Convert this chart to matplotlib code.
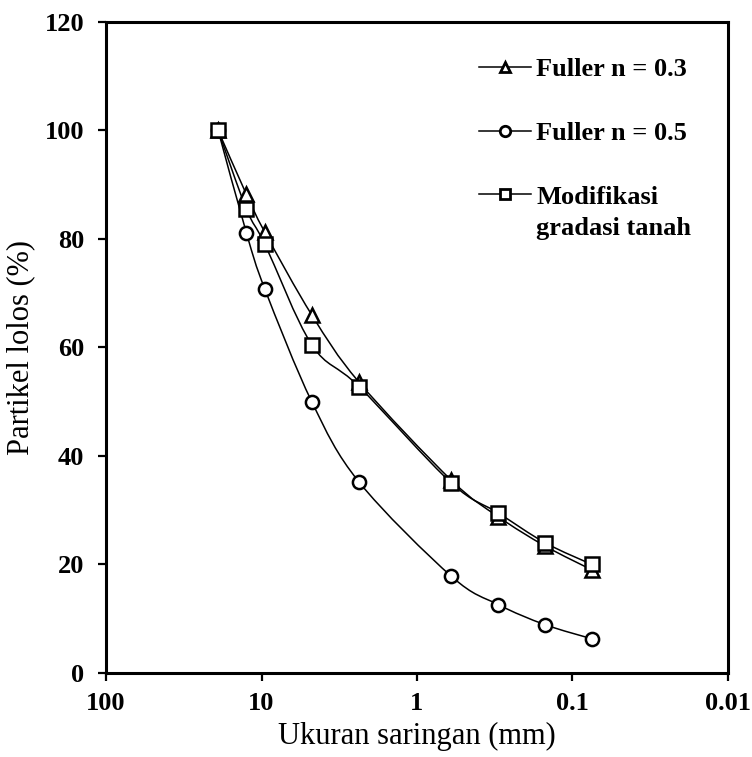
import numpy as np
import matplotlib
matplotlib.use('Agg')
import matplotlib.pyplot as plt
from matplotlib.path import Path
from matplotlib.patches import PathPatch
from matplotlib.lines import Line2D

plt.rcParams['font.family'] = ['Liberation Serif', 'DejaVu Serif']

# sieve sizes (mm) and percent passing
sieve = [19, 12.5, 9.5, 4.75, 2.36, 0.6, 0.3, 0.15, 0.075]
fuller03 = [100, 88.2, 81.2, 66.0, 53.6, 35.5, 28.8, 23.4, 19.0]
fuller05 = [100, 81.1, 70.7, 50.0, 35.2, 17.8, 12.6, 8.9, 6.3]
modif = [100, 85.5, 79.0, 60.5, 52.8, 35.0, 29.5, 24.0, 20.0]

xticks = [100, 10, 1, 0.1, 0.01]
xticklabels = ['100', '10', '1', '0.1', '0.01']
yticks = [0, 20, 40, 60, 80, 100, 120]


def smooth_path(xs, ys):
    # excel-style smoothed line: bezier segments, control points in log-x space
    lx = np.log10(np.array(xs, dtype=float))
    y = np.array(ys, dtype=float)
    n = len(lx)
    verts = [(xs[0], ys[0])]
    codes = [Path.MOVETO]
    for i in range(n - 1):
        a = max(i - 1, 0)
        b = min(i + 2, n - 1)
        c1 = (lx[i] + (lx[i + 1] - lx[a]) / 6, y[i] + (y[i + 1] - y[a]) / 6)
        c2 = (lx[i + 1] - (lx[b] - lx[i]) / 6, y[i + 1] - (y[b] - y[i]) / 6)
        verts += [(10 ** c1[0], c1[1]), (10 ** c2[0], c2[1]), (xs[i + 1], ys[i + 1])]
        codes += [Path.CURVE4] * 3
    return Path(verts, codes)


fig = plt.figure(figsize=(7.52, 7.57), dpi=100)
ax = fig.add_axes([0.141, 0.111, 0.827, 0.860])

ms = 9.5
mew = 1.8
for vals, mk in [(fuller03, '^'), (fuller05, 'o'), (modif, 's')]:
    ax.add_patch(PathPatch(smooth_path(sieve, vals), fill=False, lw=1.1,
                           edgecolor='black', zorder=2))
    ax.plot(sieve, vals, ls='none', marker=mk, ms=ms, mfc='white',
            mec='black', mew=mew, zorder=3)

ax.set_xscale('log')
ax.set_xlim(100, 0.01)
ax.set_ylim(0, 120)
ax.set_xticks(xticks)
ax.set_xticklabels(xticklabels)
ax.minorticks_off()
ax.set_yticks(yticks)

for s in ax.spines.values():
    s.set_linewidth(2.2)
ax.tick_params(direction='out', length=5.8, width=1.6, labelsize=19)
ax.tick_params(axis='y', pad=10)
ax.tick_params(axis='x', pad=8)
for lab in ax.get_xticklabels() + ax.get_yticklabels():
    lab.set_fontweight('bold')

ax.set_xlabel('Ukuran saringan (mm)', fontsize=22, labelpad=5)
ax.set_ylabel('Partikel lolos (%)', fontsize=22, labelpad=7)

handles = [
    Line2D([], [], color='black', lw=1.1, marker='^', ms=7.5, mfc='white', mew=2),
    Line2D([], [], color='black', lw=1.1, marker='o', ms=7.5, mfc='white', mew=2),
    Line2D([], [], color='black', lw=1.1, marker='s', ms=7.5, mfc='white', mew=2),
]
labels = ['Fuller n = 0.3', 'Fuller n = 0.5', 'Modifikasi']
leg = ax.legend(handles, labels, loc='upper left', bbox_to_anchor=(0.578, 0.965),
                frameon=False, borderpad=0, handlelength=2.0, handletextpad=0.19,
                labelspacing=1.52, prop={'weight': 'bold', 'size': 19})

fig.canvas.draw()
bb = leg.get_texts()[2].get_window_extent()
inv = fig.transFigure.inverted()
x0, y0 = inv.transform((bb.x0, bb.y0))
fig.text(x0, y0 - 31 / 757, 'gradasi tanah', fontsize=19, fontweight='bold',
         ha='left', va='bottom')

fig.savefig('out.png', dpi=100)
